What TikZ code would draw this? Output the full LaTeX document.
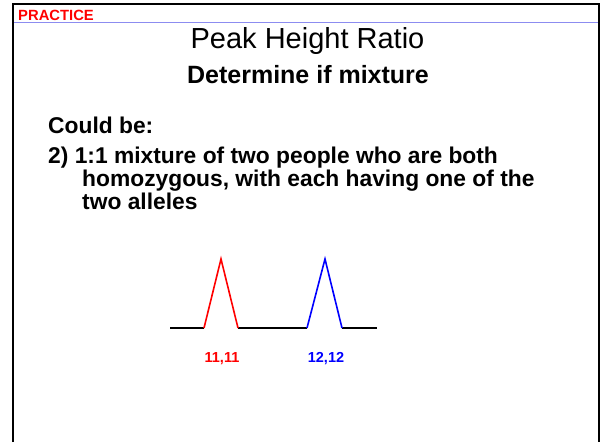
\documentclass[tikz,border=0pt]{standalone}
\usepackage{fontspec}
\setmainfont{Liberation Sans}
\begin{document}
\begin{tikzpicture}[x=1pt,y=-1pt,
  frame/.style={line width=2pt,black},
  peakline/.style={line width=1.6pt,line join=miter},
  bodytxt/.style={anchor=base west,inner sep=0pt,font=\fontsize{22.8}{27}\selectfont\bfseries},
  lbl/.style={anchor=base,inner sep=0pt,font=\fontsize{14.5}{17}\selectfont\bfseries}]
\useasboundingbox (0,0) rectangle (602,442);
\fill[white] (0,0) rectangle (602,442);
% frame
\coordinate (bl) at (13,442);
\coordinate (tl) at (13,4);
\coordinate (tr) at (599,4);
\coordinate (br) at (599,442);
\draw[frame] (bl) -- (tl) -- (tr) -- (br);
\coordinate (hl) at (14,22.5);
\coordinate (hr) at (598,22.5);
\draw[line width=1.5pt,color={rgb,255:red,140;green,140;blue,240}] (hl) -- (hr);
\node[anchor=base west,inner sep=0pt,text=red,font=\fontsize{14.8}{17}\selectfont\bfseries] (prac) at (18,20.5) {PRACTICE};
% titles
\node[anchor=base,inner sep=0pt,font=\fontsize{29}{33}\selectfont] (t1) at (307.5,48) {Peak Height Ratio};
\node[anchor=base,inner sep=0pt,font=\fontsize{25}{30}\selectfont\bfseries] (t2) at (308,83) {Determine if mixture};
% body
\node[bodytxt] (b1) at (48,133) {Could be:};
\node[bodytxt] (b2) at (48,163.5) {2) 1:1 mixture of two people who are both};
\node[bodytxt] (b3) at (82,186) {homozygous, with each having one of the};
\node[bodytxt] (b4) at (82,209) {two alleles};
% peaks
\coordinate (p0) at (170,328);
\coordinate (p1) at (204,328);
\coordinate (p2) at (221,259);
\coordinate (p3) at (238,328);
\coordinate (p4) at (307,328);
\coordinate (p5) at (325,259);
\coordinate (p6) at (342,328);
\coordinate (p7) at (377,328);
\draw[peakline,black] (p0) -- (p1);
\draw[peakline,black] (p3) -- (p4);
\draw[peakline,black] (p6) -- (p7);
\draw[peakline,red] (p1) -- (p2) -- (p3);
\draw[peakline,blue] (p4) -- (p5) -- (p6);
\node[lbl,text=red] (l1) at (222,362) {11,11};
\node[lbl,text=blue] (l2) at (326,362) {12,12};
\end{tikzpicture}
\end{document}
